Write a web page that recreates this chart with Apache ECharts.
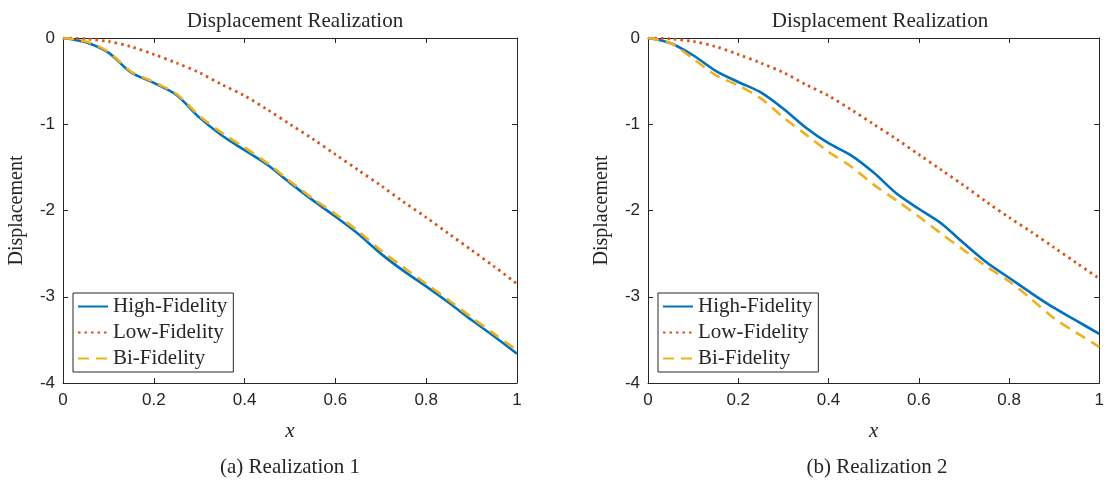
<!DOCTYPE html>
<html>
<head>
<meta charset="utf-8">
<script src="https://cdn.jsdelivr.net/npm/echarts@6/dist/echarts.min.js"></script>
<style>
  html, body { margin: 0; padding: 0; background: #fff; }
  #chart { width: 1107px; height: 484px; }
</style>
</head>
<body>
<div id="chart"></div>
<script>
// x positions shared by every series
const xs = [0, 0.05, 0.1, 0.15, 0.2, 0.25, 0.3, 0.35, 0.4, 0.45, 0.5,
  0.55, 0.6, 0.65, 0.7, 0.75, 0.8, 0.85, 0.9, 0.95, 1];

// Realization 1
const high1 = [0, -0.05, -0.17, -0.40, -0.52, -0.66, -0.92, -1.13, -1.30, -1.47, -1.68,
  -1.88, -2.07, -2.27, -2.50, -2.70, -2.88, -3.07, -3.27, -3.46, -3.66];
const low1 = [0, -0.01, -0.04, -0.10, -0.19, -0.29, -0.40, -0.54, -0.67, -0.83, -1.00,
  -1.17, -1.35, -1.53, -1.71, -1.90, -2.08, -2.27, -2.46, -2.65, -2.85];
const bi1 = [0, -0.04, -0.16, -0.39, -0.51, -0.65, -0.90, -1.10, -1.27, -1.45, -1.66,
  -1.86, -2.04, -2.24, -2.46, -2.66, -2.85, -3.04, -3.24, -3.43, -3.62];

// Realization 2
const high2 = [0, -0.06, -0.20, -0.38, -0.51, -0.63, -0.82, -1.04, -1.22, -1.36, -1.56,
  -1.80, -1.98, -2.15, -2.38, -2.60, -2.78, -2.96, -3.13, -3.28, -3.43];
const low2 = [0, -0.01, -0.04, -0.10, -0.19, -0.29, -0.40, -0.54, -0.67, -0.83, -1.00,
  -1.17, -1.35, -1.53, -1.71, -1.90, -2.08, -2.25, -2.43, -2.61, -2.79];
const bi2 = [0, -0.06, -0.24, -0.43, -0.55, -0.70, -0.92, -1.12, -1.32, -1.49, -1.70,
  -1.88, -2.07, -2.27, -2.46, -2.65, -2.82, -3.03, -3.25, -3.42, -3.58];

const seriesNames = ["High-Fidelity", "Low-Fidelity", "Bi-Fidelity"];
const captions = ["(a) Realization 1", "(b) Realization 2"];
const titleText = "Displacement Realization";

const serif = "'Liberation Serif', 'DejaVu Serif', serif";
const sans = "'Liberation Sans', Arial, sans-serif";
const axisColor = "#262626";

const chart = echarts.init(document.getElementById("chart"));

const grids = [
  { left: 63, top: 38, width: 454, height: 345 },
  { left: 648, top: 38, width: 454, height: 345 }
];

const pair = (arr) => xs.map((x, i) => [x, arr[i]]);

const xAxis = [];
const yAxis = [];
const series = [];

[0, 1].forEach((g) => {
  // bottom / left axes with labels
  xAxis.push({
    type: "value", gridIndex: g, position: "bottom", min: 0, max: 1, interval: 0.2,
    name: "x", nameLocation: "middle", nameGap: 38,
    nameTextStyle: { fontFamily: serif, fontStyle: "italic", fontSize: 21, color: axisColor },
    axisLine: { onZero: false, lineStyle: { color: axisColor } },
    axisTick: { inside: true, length: 5, lineStyle: { color: axisColor } },
    axisLabel: { fontFamily: sans, fontSize: 17, color: axisColor, margin: 9,
      formatter: (v) => String(+v.toFixed(1)) },
    splitLine: { show: false }
  });
  yAxis.push({
    type: "value", gridIndex: g, position: "left", min: -4, max: 0, interval: 1,
    name: "Displacement", nameLocation: "middle", nameGap: 36,
    nameTextStyle: { fontFamily: serif, fontSize: 20, color: axisColor },
    axisLine: { onZero: false, lineStyle: { color: axisColor } },
    axisTick: { inside: true, length: 5, lineStyle: { color: axisColor } },
    axisLabel: { fontFamily: sans, fontSize: 17, color: axisColor, margin: 8 },
    splitLine: { show: false }
  });
});
[0, 1].forEach((g) => {
  // top / right box axes, ticks only
  xAxis.push({
    type: "value", gridIndex: g, position: "top", min: 0, max: 1, interval: 0.2,
    axisLine: { onZero: false, lineStyle: { color: axisColor } },
    axisTick: { inside: true, length: 5, lineStyle: { color: axisColor } },
    axisLabel: { show: false }, splitLine: { show: false }
  });
  yAxis.push({
    type: "value", gridIndex: g, position: "right", min: -4, max: 0, interval: 1,
    axisLine: { onZero: false, lineStyle: { color: axisColor } },
    axisTick: { inside: true, length: 5, lineStyle: { color: axisColor } },
    axisLabel: { show: false }, splitLine: { show: false }
  });
});

const sets = [[high1, low1, bi1], [high2, low2, bi2]];
const styles = [
  { color: "#0072BD", type: "solid", width: 2.6 },
  { color: "#D95319", type: [2.5, 4], width: 2.8 },
  { color: "#EDB120", type: [11, 7], width: 2.6 }
];

sets.forEach((set, g) => {
  set.forEach((arr, k) => {
    series.push({
      name: seriesNames[k], type: "line", xAxisIndex: g, yAxisIndex: g,
      data: pair(arr), showSymbol: false, symbol: "none", smooth: 0.3,
      lineStyle: styles[k], itemStyle: { color: styles[k].color },
      z: k === 2 ? 3 : 2, animation: false
    });
  });
});

const titleStyle = (size) => ({ fontFamily: serif, fontSize: size, fontWeight: "normal", color: axisColor });

const option = {
  backgroundColor: "#fff",
  animation: false,
  title: [
    { text: titleText, left: 290, top: 6, textAlign: "center", textStyle: titleStyle(21) },
    { text: titleText, left: 875, top: 6, textAlign: "center", textStyle: titleStyle(21) },
    { text: captions[0], left: 285, top: 452, textAlign: "center", textStyle: titleStyle(21) },
    { text: captions[1], left: 872, top: 452, textAlign: "center", textStyle: titleStyle(21) }
  ],
  legend: [
    { left: 73 },
    { left: 658 }
  ].map((pos) => ({
    data: seriesNames, orient: "vertical", left: pos.left, top: 293,
    itemWidth: 30, itemHeight: 10, itemGap: 5, padding: [3, 6, 3, 4],
    borderColor: axisColor, borderWidth: 1, backgroundColor: "#fff",
    selectedMode: false,
    itemStyle: { opacity: 0 },
    textStyle: { fontFamily: serif, fontSize: 21, color: axisColor }
  })),
  grid: grids,
  xAxis: xAxis,
  yAxis: yAxis,
  series: series
};

chart.setOption(option);
</script>
</body>
</html>
